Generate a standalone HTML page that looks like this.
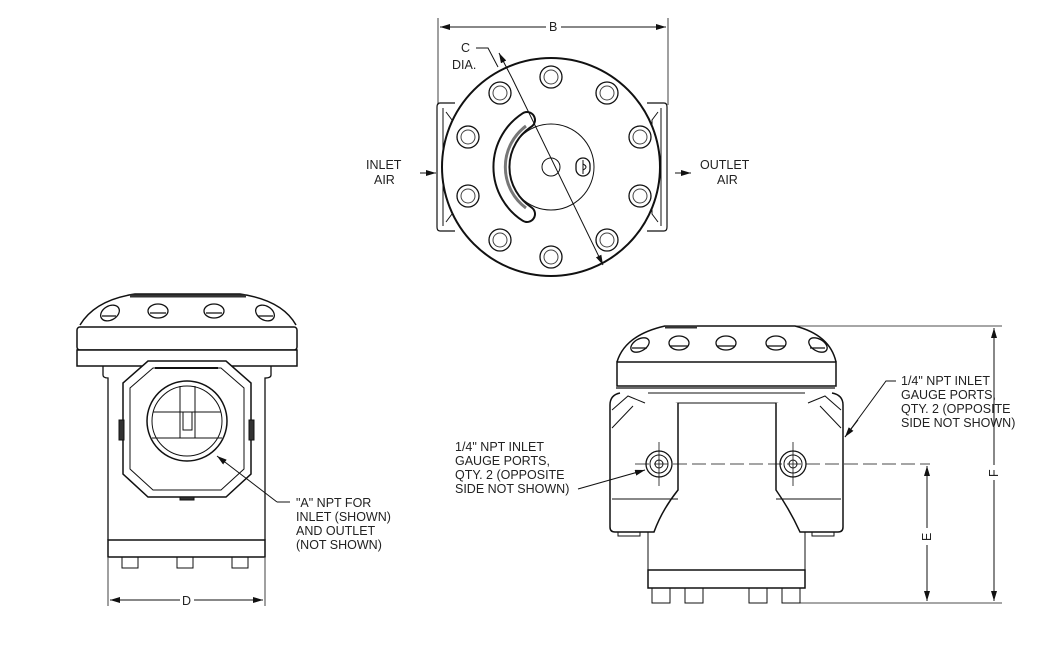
<!DOCTYPE html>
<html><head><meta charset="utf-8"><style>
html,body{margin:0;padding:0;background:#fff;}
svg{display:block;}
text{font-family:"Liberation Sans",Arial,sans-serif;font-size:12.5px;fill:#222;}
</style></head><body>
<svg width="1047" height="648" viewBox="0 0 1047 648" xmlns="http://www.w3.org/2000/svg">
<defs>
<marker id="ar" markerWidth="10" markerHeight="6" refX="10" refY="3" orient="auto" markerUnits="userSpaceOnUse"><path d="M0,0 L10,3 L0,6 Z" fill="#111"/></marker>
</defs>
<g stroke="#111" fill="none" stroke-width="1">
<line x1="438" y1="18" x2="438" y2="105" stroke-width="0.8"/>
<line x1="668" y1="18" x2="668" y2="105" stroke-width="0.8"/>
<line x1="546" y1="27" x2="440" y2="27" marker-end="url(#ar)"/>
<line x1="561" y1="27" x2="666" y2="27" marker-end="url(#ar)"/>
<path d="M455,103 L440,103 Q437,103 437,107 L437,227 Q437,231 440,231 L455,231" stroke-width="1.2"/>
<path d="M443,108 L443,226 M446,112 L452,120 L452,214 L446,222"/>
<path d="M647,103 L664,103 Q667,103 667,107 L667,227 Q667,231 664,231 L647,231" stroke-width="1.2"/>
<path d="M661,108 L661,226 M658,112 L652,120 L652,214 L658,222"/>
<circle cx="551" cy="167" r="109" stroke-width="2" fill="#fff"/>
<circle cx="551" cy="167" r="43"/>
<circle cx="551" cy="167" r="9"/>
<rect x="576" y="158" width="14" height="18" rx="7" stroke-width="1.3"/>
<path d="M583,160 L583,174 M583,164 Q589,167 583,170"/>
<path d="M527,120 A56,56 0 0 0 527,214" stroke-width="18" stroke="#111" stroke-linecap="round"/>
<path d="M527,120 A56,56 0 0 0 527,214" stroke-width="14" stroke="#fff" stroke-linecap="round"/>
<path d="M526,126 A51,51 0 0 0 526,208" stroke-width="3" stroke="#777"/>
<g stroke-width="1.3" fill="#fff">
<circle cx="551" cy="77" r="11"/><circle cx="551" cy="257" r="11"/>
<circle cx="500" cy="93" r="11"/><circle cx="607" cy="93" r="11"/>
<circle cx="468" cy="137" r="11"/><circle cx="640" cy="137" r="11"/>
<circle cx="468" cy="196" r="11"/><circle cx="640" cy="196" r="11"/>
<circle cx="500" cy="240" r="11"/><circle cx="607" cy="240" r="11"/>
</g>
<g stroke-width="1" stroke="#444">
<circle cx="551" cy="77" r="7"/><circle cx="551" cy="257" r="7"/>
<circle cx="500" cy="93" r="7"/><circle cx="607" cy="93" r="7"/>
<circle cx="468" cy="137" r="7"/><circle cx="640" cy="137" r="7"/>
<circle cx="468" cy="196" r="7"/><circle cx="640" cy="196" r="7"/>
<circle cx="500" cy="240" r="7"/><circle cx="607" cy="240" r="7"/>
</g>
<path d="M476,48 L488,48 L498,67"/>
<line x1="512" y1="78" x2="499" y2="53" marker-end="url(#ar)"/>
<line x1="512" y1="78" x2="603" y2="265" marker-end="url(#ar)"/>
<line x1="420" y1="173" x2="436" y2="173" marker-end="url(#ar)"/>
<line x1="675" y1="173" x2="691" y2="173" marker-end="url(#ar)"/>

<path d="M80,325 Q95,300 135,294 L240,294 Q282,300 296,325" stroke-width="1.5" fill="#fff"/>
<path d="M130,296 L246,296" stroke-width="3" stroke="#333"/>
<g stroke-width="1.3">
<ellipse cx="110" cy="313" rx="10" ry="7" transform="rotate(-30 110 313)"/>
<ellipse cx="158" cy="311" rx="10" ry="7"/>
<ellipse cx="214" cy="311" rx="10" ry="7"/>
<ellipse cx="265" cy="313" rx="10" ry="7" transform="rotate(30 265 313)"/>
<path d="M102,316 L116,316 M150,313 L166,313 M206,313 L222,313 M258,316 L273,316"/>
</g>
<rect x="77" y="327" width="220" height="23" rx="3" stroke-width="1.5" fill="#fff"/>
<rect x="77" y="350" width="220" height="16" stroke-width="1.5" fill="#fff"/>
<path d="M103,366 L103,375 Q103,378 108,378 L108,540 M271,366 L271,375 Q271,378 265,378 L265,540" stroke-width="1.3"/>
<path d="M108,540 L265,540" />
<path d="M148,361 L226,361 L251,383 L251,474 L226,497 L148,497 L123,474 L123,383 Z" stroke-width="1.5" fill="#fff"/>
<path d="M153,368 L221,368 L244,388 L244,469 L221,490 L153,490 L130,469 L130,388 Z"/>
<line x1="155" y1="368" x2="218" y2="368" stroke-width="2"/>
<circle cx="187" cy="421" r="40" stroke-width="1.5" fill="#fff"/>
<circle cx="187" cy="421" r="35"/>
<path d="M153,412 L221,412 M152,438 L222,438 M180,386 L180,438 M195,386 L195,438"/>
<rect x="183" y="412" width="9" height="18"/>
<rect x="119" y="420" width="5" height="20" fill="#333"/>
<rect x="249" y="420" width="5" height="20" fill="#333"/>
<rect x="180" y="497" width="14" height="3" fill="#333"/>
<rect x="108" y="540" width="157" height="17" stroke-width="1.5" fill="#fff"/>
<rect x="122" y="557" width="16" height="11"/><rect x="177" y="557" width="16" height="11"/><rect x="232" y="557" width="16" height="11"/>
<line x1="108" y1="558" x2="108" y2="606" stroke-width="0.8"/>
<line x1="265" y1="558" x2="265" y2="606" stroke-width="0.8"/>
<line x1="180" y1="600" x2="110" y2="600" marker-end="url(#ar)"/>
<line x1="194" y1="600" x2="263" y2="600" marker-end="url(#ar)"/>
<line x1="277" y1="502" x2="217" y2="456" marker-end="url(#ar)"/>
<line x1="277" y1="502" x2="290" y2="502"/>

<path d="M617,362 Q625,335 665,326 L795,326 Q830,335 836,362" stroke-width="1.5" fill="#fff"/>
<path d="M665,327 L697,327" stroke-width="3" stroke="#333"/>
<g stroke-width="1.3">
<ellipse cx="640" cy="345" rx="10" ry="6" transform="rotate(-30 640 345)"/>
<ellipse cx="679" cy="343" rx="10" ry="7"/>
<ellipse cx="726" cy="343" rx="10" ry="7"/>
<ellipse cx="776" cy="343" rx="10" ry="7"/>
<ellipse cx="818" cy="345" rx="10" ry="6" transform="rotate(30 818 345)"/>
<path d="M632,348 L647,348 M670,346 L688,346 M717,346 L735,346 M767,346 L785,346 M810,348 L825,348"/>
</g>
<rect x="617" y="362" width="219" height="24" stroke-width="1.5" fill="#fff"/>
<path d="M616,388 L835,388" stroke-width="1.3"/>
<path d="M648,393 L805,393 M648,403 L805,403"/>
<path d="M620,393 Q610,395 610,405 L610,527 Q610,532 615,532 L654,532 Q662,510 678,490 L678,403" stroke-width="1.5" fill="#fff"/>
<path d="M832,393 Q843,395 843,405 L843,527 Q843,532 838,532 L800,532 Q790,510 776,490 L776,403" stroke-width="1.5" fill="#fff"/>
<path d="M612,410 L628,396 L645,403 M612,428 L633,406 M841,410 L825,396 L808,403 M841,428 L820,406"/>
<path d="M612,499 L678,499 M776,499 L841,499"/>
<path d="M648,532 L648,570 M805,532 L805,570"/>
<rect x="648" y="570" width="157" height="18" stroke-width="1.5" fill="#fff"/>
<rect x="652" y="588" width="18" height="15"/><rect x="685" y="588" width="18" height="15"/><rect x="749" y="588" width="18" height="15"/><rect x="782" y="588" width="18" height="15"/>
<rect x="618" y="532" width="22" height="4"/><rect x="812" y="532" width="22" height="4"/>
<g stroke-width="1.3" fill="#fff">
<circle cx="659" cy="464" r="13"/><circle cx="793" cy="464" r="13"/>
</g>
<circle cx="659" cy="464" r="9"/><circle cx="793" cy="464" r="9"/>
<circle cx="659" cy="464" r="4"/><circle cx="793" cy="464" r="4"/>
<path d="M659,442 L659,486 M793,442 L793,486" stroke-width="0.8"/>
<line x1="635" y1="464" x2="930" y2="464" stroke-width="0.8" stroke-dasharray="14 5"/>
<line x1="700" y1="326" x2="1002" y2="326" stroke-width="0.8"/>
<line x1="800" y1="603" x2="1002" y2="603" stroke-width="0.8"/>
<line x1="994" y1="465" x2="994" y2="328" marker-end="url(#ar)"/>
<line x1="994" y1="480" x2="994" y2="601" marker-end="url(#ar)"/>
<line x1="927" y1="528" x2="927" y2="466" marker-end="url(#ar)"/>
<line x1="927" y1="545" x2="927" y2="601" marker-end="url(#ar)"/>
<line x1="578" y1="489" x2="645" y2="470" marker-end="url(#ar)"/>
<path d="M896,381 L886,381 L845,437"/>
<line x1="858" y1="420" x2="845" y2="437" marker-end="url(#ar)"/>
</g>
<text x="549" y="31">B</text>
<text x="461" y="52">C</text>
<text x="452" y="69">DIA.</text>
<text x="366" y="169">INLET</text>
<text x="374" y="184">AIR</text>
<text x="700" y="169">OUTLET</text>
<text x="717" y="184">AIR</text>
<text x="182" y="605">D</text>
<text x="296" y="507">"A" NPT FOR</text>
<text x="296" y="521">INLET (SHOWN)</text>
<text x="296" y="535">AND OUTLET</text>
<text x="296" y="549">(NOT SHOWN)</text>
<text x="455" y="451">1/4" NPT INLET</text>
<text x="455" y="465">GAUGE PORTS,</text>
<text x="455" y="479">QTY. 2 (OPPOSITE</text>
<text x="455" y="493">SIDE NOT SHOWN)</text>
<text x="901" y="385">1/4" NPT INLET</text>
<text x="901" y="399">GAUGE PORTS,</text>
<text x="901" y="413">QTY. 2 (OPPOSITE</text>
<text x="901" y="427">SIDE NOT SHOWN)</text>
<text x="0" y="0" transform="translate(998,477) rotate(-90)">F</text>
<text x="0" y="0" transform="translate(931,541) rotate(-90)">E</text>
</svg>
</body></html>
